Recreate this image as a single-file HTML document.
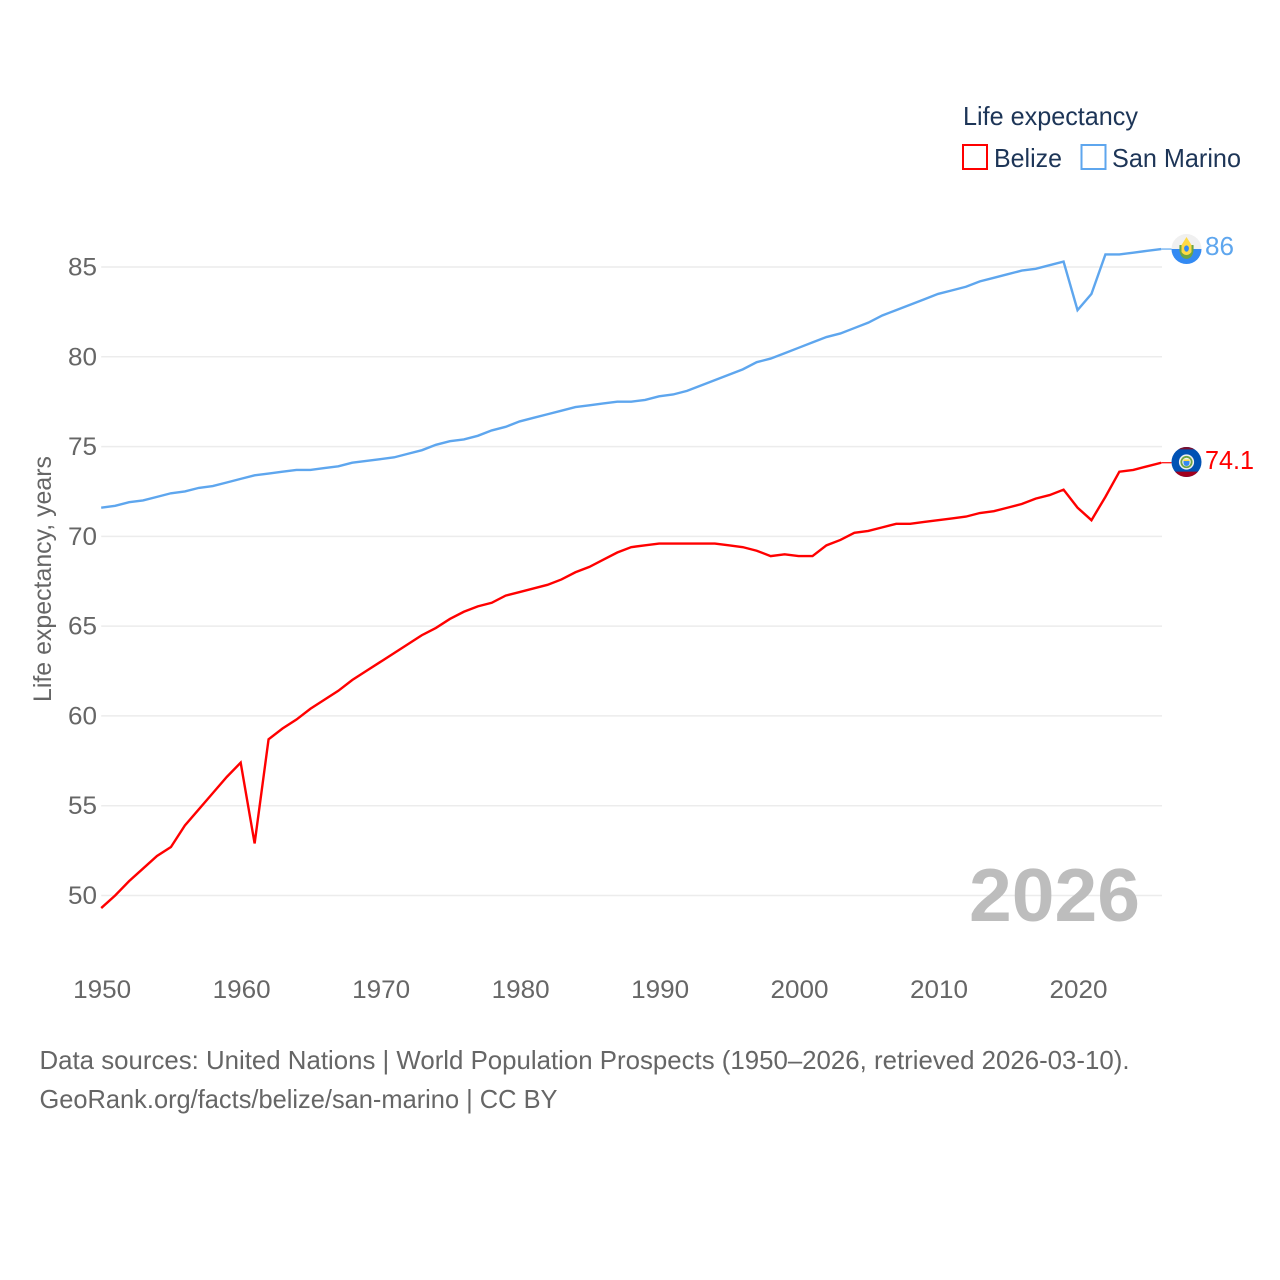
<!DOCTYPE html>
<html lang="en">
<head>
<meta charset="utf-8">
<title>Life expectancy: Belize and San Marino</title>
<style>
  html, body { margin: 0; padding: 0; background: #fff; }
  svg { display: block; }
  text { font-family: "Liberation Sans", sans-serif; }
</style>
</head>
<body>
<svg id="chart" width="1280" height="1280" viewBox="0 0 1280 1280">
  <rect x="0" y="0" width="1280" height="1280" fill="#ffffff"/>
  <g id="grid"></g>
  <g id="y-ticks"></g>
  <g id="x-ticks"></g>
  <text transform="translate(51,579) rotate(-90)" text-anchor="middle" font-size="25" fill="#666666" textLength="246" lengthAdjust="spacingAndGlyphs">Life expectancy, years</text>
  <text x="1140" y="921" text-anchor="end" font-size="75" font-weight="700" fill="#bdbdbd" textLength="171" lengthAdjust="spacingAndGlyphs">2026</text>
  <g id="series"></g>
  <g id="ends"></g>

  <g>
    <text x="963" y="125" font-size="26" fill="#1d3557" textLength="175" lengthAdjust="spacingAndGlyphs">Life expectancy</text>
    <g>
      <rect x="963" y="145" width="24" height="24" fill="#ffffff" stroke="#ff0000" stroke-width="2"/>
      <text x="994" y="167" font-size="26" fill="#1d3557" textLength="68" lengthAdjust="spacingAndGlyphs">Belize</text>
    </g>
    <g>
      <rect x="1081.5" y="145" width="24" height="24" fill="#ffffff" stroke="#5ea6ee" stroke-width="2"/>
      <text x="1112" y="167" font-size="26" fill="#1d3557" textLength="129" lengthAdjust="spacingAndGlyphs">San Marino</text>
    </g>
  </g>

  <g>
    <text x="39.5" y="1069" font-size="26" fill="#666666" textLength="1090" lengthAdjust="spacingAndGlyphs">Data sources: United Nations | World Population Prospects (1950–2026, retrieved 2026-03-10).</text>
    <text x="39.5" y="1108" font-size="26" fill="#666666" textLength="518" lengthAdjust="spacingAndGlyphs">GeoRank.org/facts/belize/san-marino | CC BY</text>
  </g>
</svg>

<script>
const years = [1950,1951,1952,1953,1954,1955,1956,1957,1958,1959,1960,1961,1962,1963,1964,1965,1966,1967,1968,1969,1970,1971,1972,1973,1974,1975,1976,1977,1978,1979,1980,1981,1982,1983,1984,1985,1986,1987,1988,1989,1990,1991,1992,1993,1994,1995,1996,1997,1998,1999,2000,2001,2002,2003,2004,2005,2006,2007,2008,2009,2010,2011,2012,2013,2014,2015,2016,2017,2018,2019,2020,2021,2022,2023,2024,2025,2026];
const belizeValues = [49.3,50.0,50.8,51.5,52.2,52.7,53.9,54.8,55.7,56.6,57.4,52.9,58.7,59.3,59.8,60.4,60.9,61.4,62.0,62.5,63.0,63.5,64.0,64.5,64.9,65.4,65.8,66.1,66.3,66.7,66.9,67.1,67.3,67.6,68.0,68.3,68.7,69.1,69.4,69.5,69.6,69.6,69.6,69.6,69.6,69.5,69.4,69.2,68.9,69.0,68.9,68.9,69.5,69.8,70.2,70.3,70.5,70.7,70.7,70.8,70.9,71.0,71.1,71.3,71.4,71.6,71.8,72.1,72.3,72.6,71.6,70.9,72.2,73.6,73.7,73.9,74.1];
const sanMarinoValues = [71.6,71.7,71.9,72.0,72.2,72.4,72.5,72.7,72.8,73.0,73.2,73.4,73.5,73.6,73.7,73.7,73.8,73.9,74.1,74.2,74.3,74.4,74.6,74.8,75.1,75.3,75.4,75.6,75.9,76.1,76.4,76.6,76.8,77.0,77.2,77.3,77.4,77.5,77.5,77.6,77.8,77.9,78.1,78.4,78.7,79.0,79.3,79.7,79.9,80.2,80.5,80.8,81.1,81.3,81.6,81.9,82.3,82.6,82.9,83.2,83.5,83.7,83.9,84.2,84.4,84.6,84.8,84.9,85.1,85.3,82.6,83.5,85.7,85.7,85.8,85.9,86.0];
const yTickValues = [50,55,60,65,70,75,80,85];
const xTickValues = [1950,1960,1970,1980,1990,2000,2010,2020];

const NS = 'http://www.w3.org/2000/svg';
const xAxis = year => 101.2 + (year - 1950) * (1161.2 - 101.2) / 76;
const yAxis = value => 895.5 - (value - 50) * 17.957;
const PLOT_LEFT = xAxis(1950);
const PLOT_RIGHT = xAxis(2026);

function make(tag, parent, attrs, text) {
  const el = document.createElementNS(NS, tag);
  Object.keys(attrs).forEach(k => el.setAttribute(k, attrs[k]));
  if (text !== undefined) el.textContent = text;
  parent.appendChild(el);
  return el;
}

const gridGroup = document.getElementById('grid');
const yTickGroup = document.getElementById('y-ticks');
yTickValues.forEach(v => {
  const line = make('line', gridGroup, { x1: PLOT_LEFT, x2: PLOT_RIGHT + 0.8, y1: yAxis(v), y2: yAxis(v), stroke: '#ececec', 'stroke-width': 1.5 });
  
  
  const label = make('text', yTickGroup, { x: 97, y: yAxis(v) + 8.5, 'text-anchor': 'end', 'font-size': 25, fill: '#666666', textLength: 29, lengthAdjust: 'spacingAndGlyphs' }, String(v));
  
  
});

const xTickGroup = document.getElementById('x-ticks');
xTickValues.forEach(y => {
  const label = make('text', xTickGroup, { x: xAxis(y) + 1, y: 998, 'text-anchor': 'middle', 'font-size': 25, fill: '#666666', textLength: 58, lengthAdjust: 'spacingAndGlyphs' }, String(y));
  
  
});

function linePoints(values) {
  return values.map((v, i) => xAxis(years[i]).toFixed(2) + ',' + yAxis(v).toFixed(2)).join(' ');
}

const seriesGroup = document.getElementById('series');
const belizeLine = make('polyline', seriesGroup, { points: linePoints(belizeValues), fill: 'none', stroke: '#ff0000', 'stroke-width': 2.4, 'stroke-linejoin': 'miter' });


const sanMarinoLine = make('polyline', seriesGroup, { points: linePoints(sanMarinoValues), fill: 'none', stroke: '#5ea6ee', 'stroke-width': 2.4, 'stroke-linejoin': 'miter' });



const endsGroup = document.getElementById('ends');
const FLAG_X = 1186.5;
const FLAG_R = 15;

/* San Marino end marker */
const smLast = sanMarinoValues[sanMarinoValues.length - 1];
const smY = yAxis(smLast);
const smConnector = make('line', endsGroup, { x1: PLOT_RIGHT, x2: FLAG_X - FLAG_R, y1: smY, y2: smY, stroke: '#5ea6ee', 'stroke-width': 1.2 });


const smFlag = make('g', endsGroup, { transform: 'translate(' + FLAG_X + ',' + smY + ')' });


make('circle', smFlag, { r: FLAG_R, fill: '#f0f0f0' });
make('path', smFlag, { d: 'M-15 0A15 15 0 0 0 15 0Z', fill: '#338af3' });
make('path', smFlag, { d: 'M-7 -4Q-8 9 0 10Q8 9 7 -4Z', fill: '#6da544' });
make('path', smFlag, { d: 'M0 -12L2.5 -8L5 -4L5 3Q3 6 0 6Q-3 6 -5 3L-5 -4L-2.5 -8Z', fill: '#ffda44' });
make('ellipse', smFlag, { cx: 0, cy: -0.5, rx: 2.4, ry: 3.2, fill: '#338af3' });
const smLabel = make('text', endsGroup, { x: 1205, y: smY + 6, 'font-size': 26, fill: '#5ea6ee', textLength: 29, lengthAdjust: 'spacingAndGlyphs' }, String(smLast.toFixed(1)).replace(/\.0$/, ''));



/* Belize end marker */
const bzLast = belizeValues[belizeValues.length - 1];
const bzY = yAxis(bzLast);
const bzConnector = make('line', endsGroup, { x1: PLOT_RIGHT, x2: FLAG_X - FLAG_R, y1: bzY, y2: bzY, stroke: '#ff0000', 'stroke-width': 1.2 });


const bzFlag = make('g', endsGroup, { transform: 'translate(' + FLAG_X + ',' + (bzY - 0.7) + ')' });


make('circle', bzFlag, { r: FLAG_R, fill: '#0052b4' });
make('path', bzFlag, { d: 'M-8 -12.7A15 15 0 0 1 8 -12.7Z', fill: '#7a1030' });
make('path', bzFlag, { d: 'M-11.5 9.6L11.5 9.6A15 15 0 0 1 -11.5 9.6Z', fill: '#a2001d' });
make('circle', bzFlag, { r: 7.6, fill: '#f0f0f0' });
make('circle', bzFlag, { r: 6.1, fill: '#6da544' });
make('circle', bzFlag, { r: 4.3, fill: '#f0f0f0' });
make('path', bzFlag, { d: 'M-3 -1.2L3 -1.2L3 1A3 3 0 0 1 -3 1Z', fill: '#338af3' });
make('path', bzFlag, { d: 'M-3 -2.6L3 -2.6L3 -1L-3 -1Z', fill: '#ffda44' });
const bzLabel = make('text', endsGroup, { x: 1205, y: bzY + 6.5, 'font-size': 26, fill: '#ff0000', textLength: 49, lengthAdjust: 'spacingAndGlyphs' }, bzLast.toFixed(1));


</script>
</body>
</html>
